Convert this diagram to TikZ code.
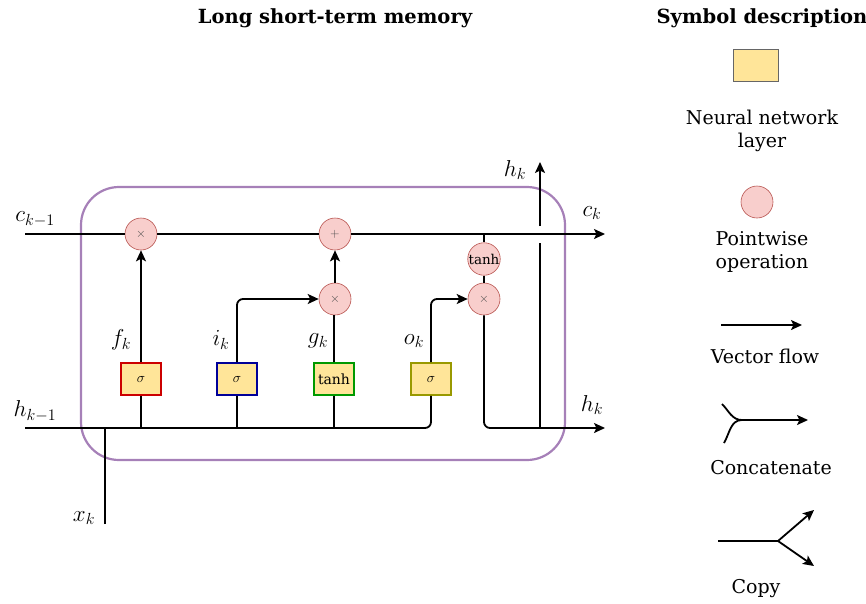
\documentclass[tikz,border=0pt]{standalone}
\usepackage{fix-cm}
\usepackage{fontspec}
\setmainfont{DejaVu Serif}
\usetikzlibrary{arrows.meta,calc}
\definecolor{boxfill}{HTML}{FFE599}
\definecolor{circfill}{HTML}{F8CECC}
\definecolor{circdraw}{HTML}{B85450}
\definecolor{cellcol}{HTML}{A680B8}
\definecolor{fred}{HTML}{CC0000}
\definecolor{iblue}{HTML}{000099}
\definecolor{ggreen}{HTML}{009900}
\definecolor{oolive}{HTML}{999900}
\tikzset{
  flow/.style={line width=1.8pt,draw=black},
  arr/.style={flow,-{Stealth[length=11pt,width=10pt,inset=2.5pt]}},
  layer/.style={draw,line width=1.8pt,fill=boxfill,minimum width=40pt,minimum height=32pt,inner sep=0pt,font=\fontsize{14}{16}\selectfont},
  pw/.style={circle,draw=circdraw,fill=circfill,line width=0.6pt,minimum size=32pt,inner sep=0pt,font=\fontsize{12.5}{14}\selectfont\color{black!70}},
  mlabel/.style={font=\fontsize{23}{26}\selectfont,inner sep=0pt},
  legtext/.style={font=\fontsize{19}{23}\selectfont,align=center,inner sep=0pt},
  ttl/.style={font=\fontsize{19.5}{22}\selectfont\bfseries,inner sep=0pt}
}
\begin{document}
\begin{tikzpicture}[x=1pt,y=-1pt]
\useasboundingbox (0,0) rectangle (866,603);
% cell
\draw[cellcol,line width=2.2pt,rounded corners=38pt] (81,187) rectangle (565,460);
% titles
\node[ttl] (t1) at (335,18) {Long short-term memory};
\node[ttl] (t2) at (762,18) {Symbol description};
% coordinates
\coordinate (cin) at (25,234);
\coordinate (cout) at (605,234);
\coordinate (hin) at (25,428);
\coordinate (hout) at (605,428);
\coordinate (xin) at (105,524);
\coordinate (xj) at (105,428);
\coordinate (hb) at (540,428);
\coordinate (hg1) at (540,243);
\coordinate (hg2) at (540,226);
\coordinate (htop) at (540,162);
\coordinate (tj) at (484,234);
% pointwise ops
\node[pw] (m1) at (141,234) {$\times$};
\node[pw] (plus) at (335,234) {$+$};
\node[pw] (m2) at (335,299) {$\times$};
\node[pw] (th) at (484,259) {\color{black}\fontsize{13.5}{14}\selectfont$\tanh$};
\node[pw] (m3) at (484,299) {$\times$};
% layers
\node[layer,draw=fred] (f) at (141,379) {$\sigma$};
\node[layer,draw=iblue] (i) at (237,379) {$\sigma$};
\node[layer,draw=ggreen] (g) at (334,379) {$\tanh$};
\node[layer,draw=oolive] (o) at (431,379) {$\sigma$};
% cell state line
\draw[flow] (cin) -- (m1);
\draw[flow] (m1) -- (plus);
\draw[arr] (plus) -- (cout);
\draw[flow] (tj) -- (th);
\draw[flow] (th) -- (m3);
% hidden line
\draw[flow,rounded corners=6pt] (hin) -| (o.south);
\draw[flow] (xin) -- (xj);
\draw[flow] (f.south) -- (f.south |- hin);
\draw[flow] (i.south) -- (i.south |- hin);
\draw[flow] (g.south) -- (g.south |- hin);
% gates
\draw[arr] (f) -- (m1);
\draw[arr,rounded corners=6pt] (i.north) |- (m2.west);
\draw[flow] (g.north) -- (g.north |- m2.south);
\draw[arr] (m2) -- (plus);
\draw[arr,rounded corners=6pt] (o.north) |- (m3.west);
\draw[arr,rounded corners=6pt] (m3.south) |- (hout);
\draw[flow] (hb) -- (hg1);
\draw[arr] (hg2) -- (htop);
% labels
\node[mlabel] (lc1) at (35,219) {$c_{k-1}$};
\node[mlabel] (lc2) at (592,213) {$c_k$};
\node[mlabel] (lh1) at (35,411) {$h_{k-1}$};
\node[mlabel] (lh2) at (592,405) {$h_k$};
\node[mlabel] (lh3) at (515,170) {$h_k$};
\node[mlabel] (lf) at (121,340) {$f_k$};
\node[mlabel] (li) at (221,340) {$i_k$};
\node[mlabel] (lg) at (318,341) {$g_k$};
\node[mlabel] (lo) at (414,341) {$o_k$};
\node[mlabel] (lx) at (84,518) {$x_k$};
% legend
\node[draw=black!60,line width=0.8pt,fill=boxfill,minimum width=45pt,minimum height=32pt,inner sep=0pt] (lgbox) at (755.5,65) {};
\node[legtext] (lgt1) at (762,131) {Neural network\\layer};
\node[pw] (lgc) at (757,202) {};
\node[legtext] (lgt2) at (762,252) {Pointwise\\operation};
\coordinate (va) at (721,325);
\coordinate (vb) at (802,325);
\draw[arr] (va) -- (vb);
\node[legtext] (lgt3) at (765,356) {Vector flow};
\coordinate (ca) at (722,404);
\coordinate (cb) at (724,443);
\coordinate (cj) at (742,420);
\coordinate (cc) at (808,420);
\draw[flow] (ca) to[out=-45,in=180] (cj);
\draw[flow] (cb) to[out=60,in=180] (cj);
\draw[arr] (cj) -- (cc);
\node[legtext] (lgt4) at (771,468) {Concatenate};
\coordinate (pa) at (718,541);
\coordinate (pj) at (778,541);
\coordinate (pu) at (814,510);
\coordinate (pd) at (814,566);
\draw[flow] (pa) -- (pj);
\draw[arr] (pj) -- (pu);
\draw[arr] (pj) -- (pd);
\node[legtext] (lgt5) at (756,589) {Copy};
\end{tikzpicture}
\end{document}
